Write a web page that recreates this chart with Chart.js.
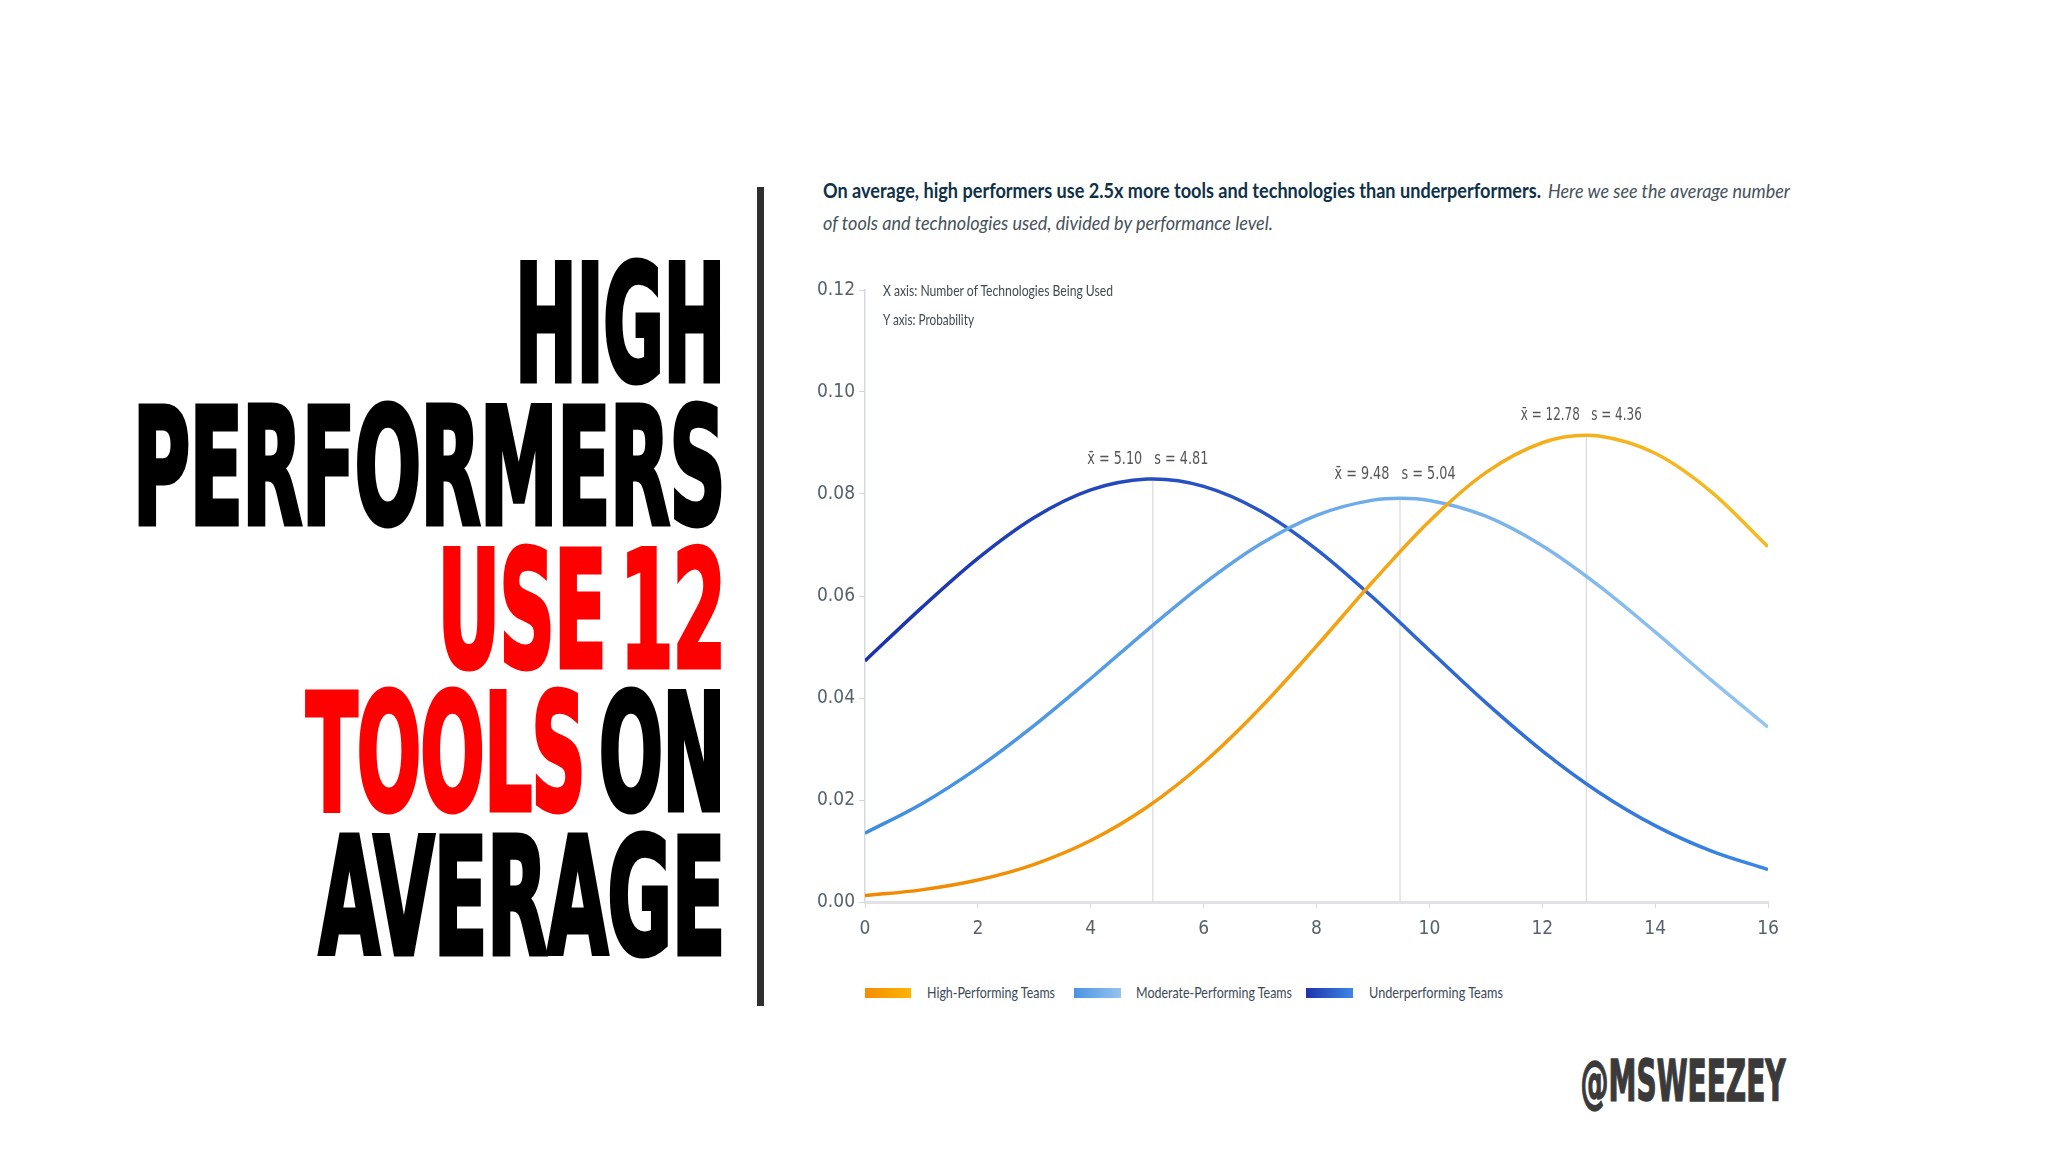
<!DOCTYPE html>
<html><head><meta charset="utf-8">
<script src="https://cdn.jsdelivr.net/npm/chart.js@4.4.1/dist/chart.umd.min.js"></script>
<style>
html,body{margin:0;padding:0;background:#fff;width:2048px;height:1152px;overflow:hidden;}
#stage{position:relative;width:2048px;height:1152px;background:#fff;}
.t{position:absolute;white-space:nowrap;margin:0;padding:0;}
.head{-webkit-text-stroke-width:5px;paint-order:stroke fill;word-spacing:-0.14em;letter-spacing:-0.01em;}
.handle{-webkit-text-stroke-width:1.5px;paint-order:stroke fill;}
#divider{position:absolute;left:757px;top:187px;width:7px;height:819px;background:#2e2e2e;}
#chartBox{position:absolute;left:790px;top:270px;width:1000px;height:690px;}
.lg{position:absolute;height:10px;top:988px;}
</style></head>
<body><div id="stage">
<div id="divider"></div>
<div id="chartBox"><canvas id="c"></canvas></div>
</div>
<script>
// ---- data ----
const seriesNames = ['High-Performing Teams','Moderate-Performing Teams','Underperforming Teams'];
const highX  = [0,1,2,3,4,5,6,7,8,9,10,11,12,12.78,13,14,15,16];
const highY  = [0.00125,0.00238,0.00431,0.00739,0.01205,0.01862,0.02731,0.03800,0.05017,0.06284,0.07467,0.08419,0.09005,0.09150,0.09139,0.08799,0.08038,0.06966];
const modX   = [0,1,2,3,4,5,6,7,8,9,9.48,10,11,12,13,14,15,16];
const modY   = [0.01350,0.01922,0.02631,0.03464,0.04383,0.05332,0.06237,0.07013,0.07582,0.07880,0.07916,0.07874,0.07564,0.06985,0.06202,0.05295,0.04345,0.03428];
const underX = [0,1,2,3,4,5,5.1,6,7,8,9,10,11,12,13,14,15,16];
const underY = [0.04727,0.05768,0.06739,0.07540,0.08080,0.08292,0.08294,0.08150,0.07672,0.06916,0.05970,0.04936,0.03909,0.02964,0.02153,0.01497,0.00997,0.00636];
const means  = [12.78, 9.48, 5.10];
const sds    = [4.36, 5.04, 4.81];
const peaks  = [0.09150, 0.07916, 0.08294];
const xMin = 0, xMax = 16, xStep = 2;
const yMin = 0, yMax = 0.12, yStep = 0.02;

const NARROW = '"Liberation Sans Narrow","DejaVu Sans Condensed","Roboto",sans-serif';
const stage = document.getElementById('stage');
const mctx = document.createElement('canvas').getContext('2d');

function place(html, plain, font, color, anchor, x, baseline, width, cls){
  mctx.font = font;
  const m = mctx.measureText(plain);
  const asc = m.fontBoundingBoxAscent, desc = m.fontBoundingBoxDescent;
  const el = document.createElement('div');
  el.className = 't' + (cls ? ' '+cls : '');
  el.style.font = font;
  el.style.lineHeight = (asc+desc)+'px';
  el.style.color = color;
  el.innerHTML = html;
  el.style.top = (baseline-asc)+'px';
  if(anchor==='right'){ el.style.right=(2048-x)+'px'; el.style.transformOrigin='right top'; }
  else { el.style.left=x+'px'; el.style.transformOrigin='left top'; }
  stage.appendChild(el);
  const w = el.getBoundingClientRect().width;
  const sx = width ? width/w : 1;
  el.style.transform = 'scaleX('+sx+')';
}
function capFont(weight, family, capH){
  mctx.font = weight+' 100px '+family;
  const r = mctx.measureText('H').actualBoundingBoxAscent/100;
  return weight+' '+(capH/r).toFixed(1)+'px '+family;
}

function build(){
  // headline
  const HF = capFont('bold', NARROW, 119);
  const heads = [
    {html:'HIGH', plain:'HIGH', base:380.5, w:210},
    {html:'PERFORMERS', plain:'PERFORMERS', base:523.5, w:592},
    {html:'<span style="color:#fe0000">USE 12</span>', plain:'USE 12', base:666.5, w:288},
    {html:'<span style="color:#fe0000">TOOLS</span> ON', plain:'TOOLS ON', base:809.5, w:419},
    {html:'AVERAGE', plain:'AVERAGE', base:953.5, w:406}
  ];
  heads.forEach(h=>place(h.html,h.plain,HF,'#000','right',725,h.base,h.w,'head'));
  place('@MSWEEZEY','@MSWEEZEY',capFont('bold',NARROW,42),'#3a3a3a','right',1786,1100.5,205,'handle');

  // title
  place('On average, high performers use 2.5x more tools and technologies than underperformers.',
        'On average, high performers use 2.5x more tools and technologies than underperformers.',
        'bold 20px Lato','#0f3148','left',823,198,718);
  place('Here we see the average number','Here we see the average number',
        'italic 20px Lato','#46525b','left',1548,198,242);
  place('of tools and technologies used, divided by performance level.',
        'of tools and technologies used, divided by performance level.',
        'italic 20px Lato','#46525b','left',823,230,450);
  // axis notes
  place('X axis: Number of Technologies Being Used','X axis: Number of Technologies Being Used',
        '15px Lato','#3f4a52','left',883,296,230);
  place('Y axis: Probability','Y axis: Probability','15px Lato','#3f4a52','left',883,325,91);

  // legend (HTML)
  const lg = [
    {x:865, w:46, c1:'#f58c00', c2:'#fdb400', tx:927, tw:128},
    {x:1074, w:47, c1:'#4a93e2', c2:'#96c4ef', tx:1136, tw:156},
    {x:1306, w:47, c1:'#1d33ad', c2:'#3f86e4', tx:1369, tw:134}
  ];
  lg.forEach((l,i)=>{
    const b=document.createElement('div'); b.className='lg';
    b.style.left=l.x+'px'; b.style.width=l.w+'px';
    b.style.background='linear-gradient(90deg,'+l.c1+','+l.c2+')';
    stage.appendChild(b);
    place(seriesNames[i],seriesNames[i],'15px Lato','#3c4a56','left',l.tx,998,l.tw);
  });

  // chart
  function grad(c1,c2){
    return (ctx)=>{
      const ch=ctx.chart, a=ch.chartArea;
      if(!a) return c1;
      const g=ch.ctx.createLinearGradient(a.left,0,a.right,0);
      g.addColorStop(0,c1); g.addColorStop(1,c2);
      return g;
    };
  }
  const xs=[highX,modX,underX], ys=[highY,modY,underY];
  const cols=[['#f08800','#f6bb22'],['#3d8de0','#95c5ef'],['#1c31ad','#3a87e6']];
  const datasets = xs.map((xa,i)=>({
    label: seriesNames[i],
    data: xa.map((x,j)=>({x:x,y:ys[i][j]})),
    borderColor: grad(cols[i][0],cols[i][1]),
    borderWidth: 3.5, pointRadius: 0, fill:false,
    cubicInterpolationMode:'monotone', order:1
  }));
  means.forEach((m,i)=>{
    datasets.push({label:'mean'+i, data:[{x:m,y:0},{x:m,y:peaks[i]}],
      borderColor:'#d2d2d2', borderWidth:1, pointRadius:0, fill:false, order:5});
  });

  const labelGap = [15, 19, 15];
  const meanLabels = {id:'meanLabels', afterDatasetsDraw(chart){
    const {ctx, scales:{x,y}} = chart;
    ctx.save();
    ctx.font = '18px '+NARROW;
    ctx.fillStyle = '#555';
    ctx.textAlign = 'center';
    ctx.textBaseline = 'alphabetic';
    means.forEach((m,i)=>{
      const txt = 'x\u0304 = '+m.toFixed(2)+'   s = '+sds[i].toFixed(2);
      const w = ctx.measureText(txt).width;
      const px = x.getPixelForValue(m), py = y.getPixelForValue(peaks[i]);
      ctx.save();
      ctx.translate(px-5, py-labelGap[i]);
      ctx.scale(121/w, 1);
      ctx.fillText(txt, 0, 0);
      ctx.restore();
    });
    ctx.restore();
  }};

  const tickFont = {family: NARROW, size: 19};
  new Chart(document.getElementById('c'), {
    type:'line',
    data:{datasets},
    options:{
      responsive:true, maintainAspectRatio:false, animation:false,
      layout:{padding:{left:0, top:20, right:22, bottom:8}},
      plugins:{legend:{display:false}, tooltip:{enabled:false}},
      scales:{
        x:{type:'linear', min:xMin, max:xMax,
           ticks:{stepSize:xStep, color:'#56636e', font:tickFont, padding:10},
           grid:{drawOnChartArea:false, drawTicks:true, tickLength:6, color:'#d8dce0'},
           border:{color:'#e0e2e5', width:3},
           afterFit(s){ s.height = 50; }},
        y:{type:'linear', min:yMin, max:yMax,
           ticks:{stepSize:yStep, color:'#56636e', font:tickFont, padding:4,
                  callback:(v)=>Number(v).toFixed(2)},
           grid:{drawOnChartArea:false, drawTicks:true, tickLength:6, color:'#d5d9de'},
           border:{color:'#d5d9de', width:1.5},
           afterFit(s){ s.width = 75; }}
      }
    },
    plugins:[meanLabels]
  });
}
Promise.all([
  document.fonts.load('bold 100px "Liberation Sans Narrow"'),
  document.fonts.load('bold 20px Lato'),
  document.fonts.load('italic 20px Lato'),
  document.fonts.load('15px Lato'),
  document.fonts.load('18px "Liberation Sans Narrow"')
]).catch(()=>{}).then(build);
</script>
</body></html>
